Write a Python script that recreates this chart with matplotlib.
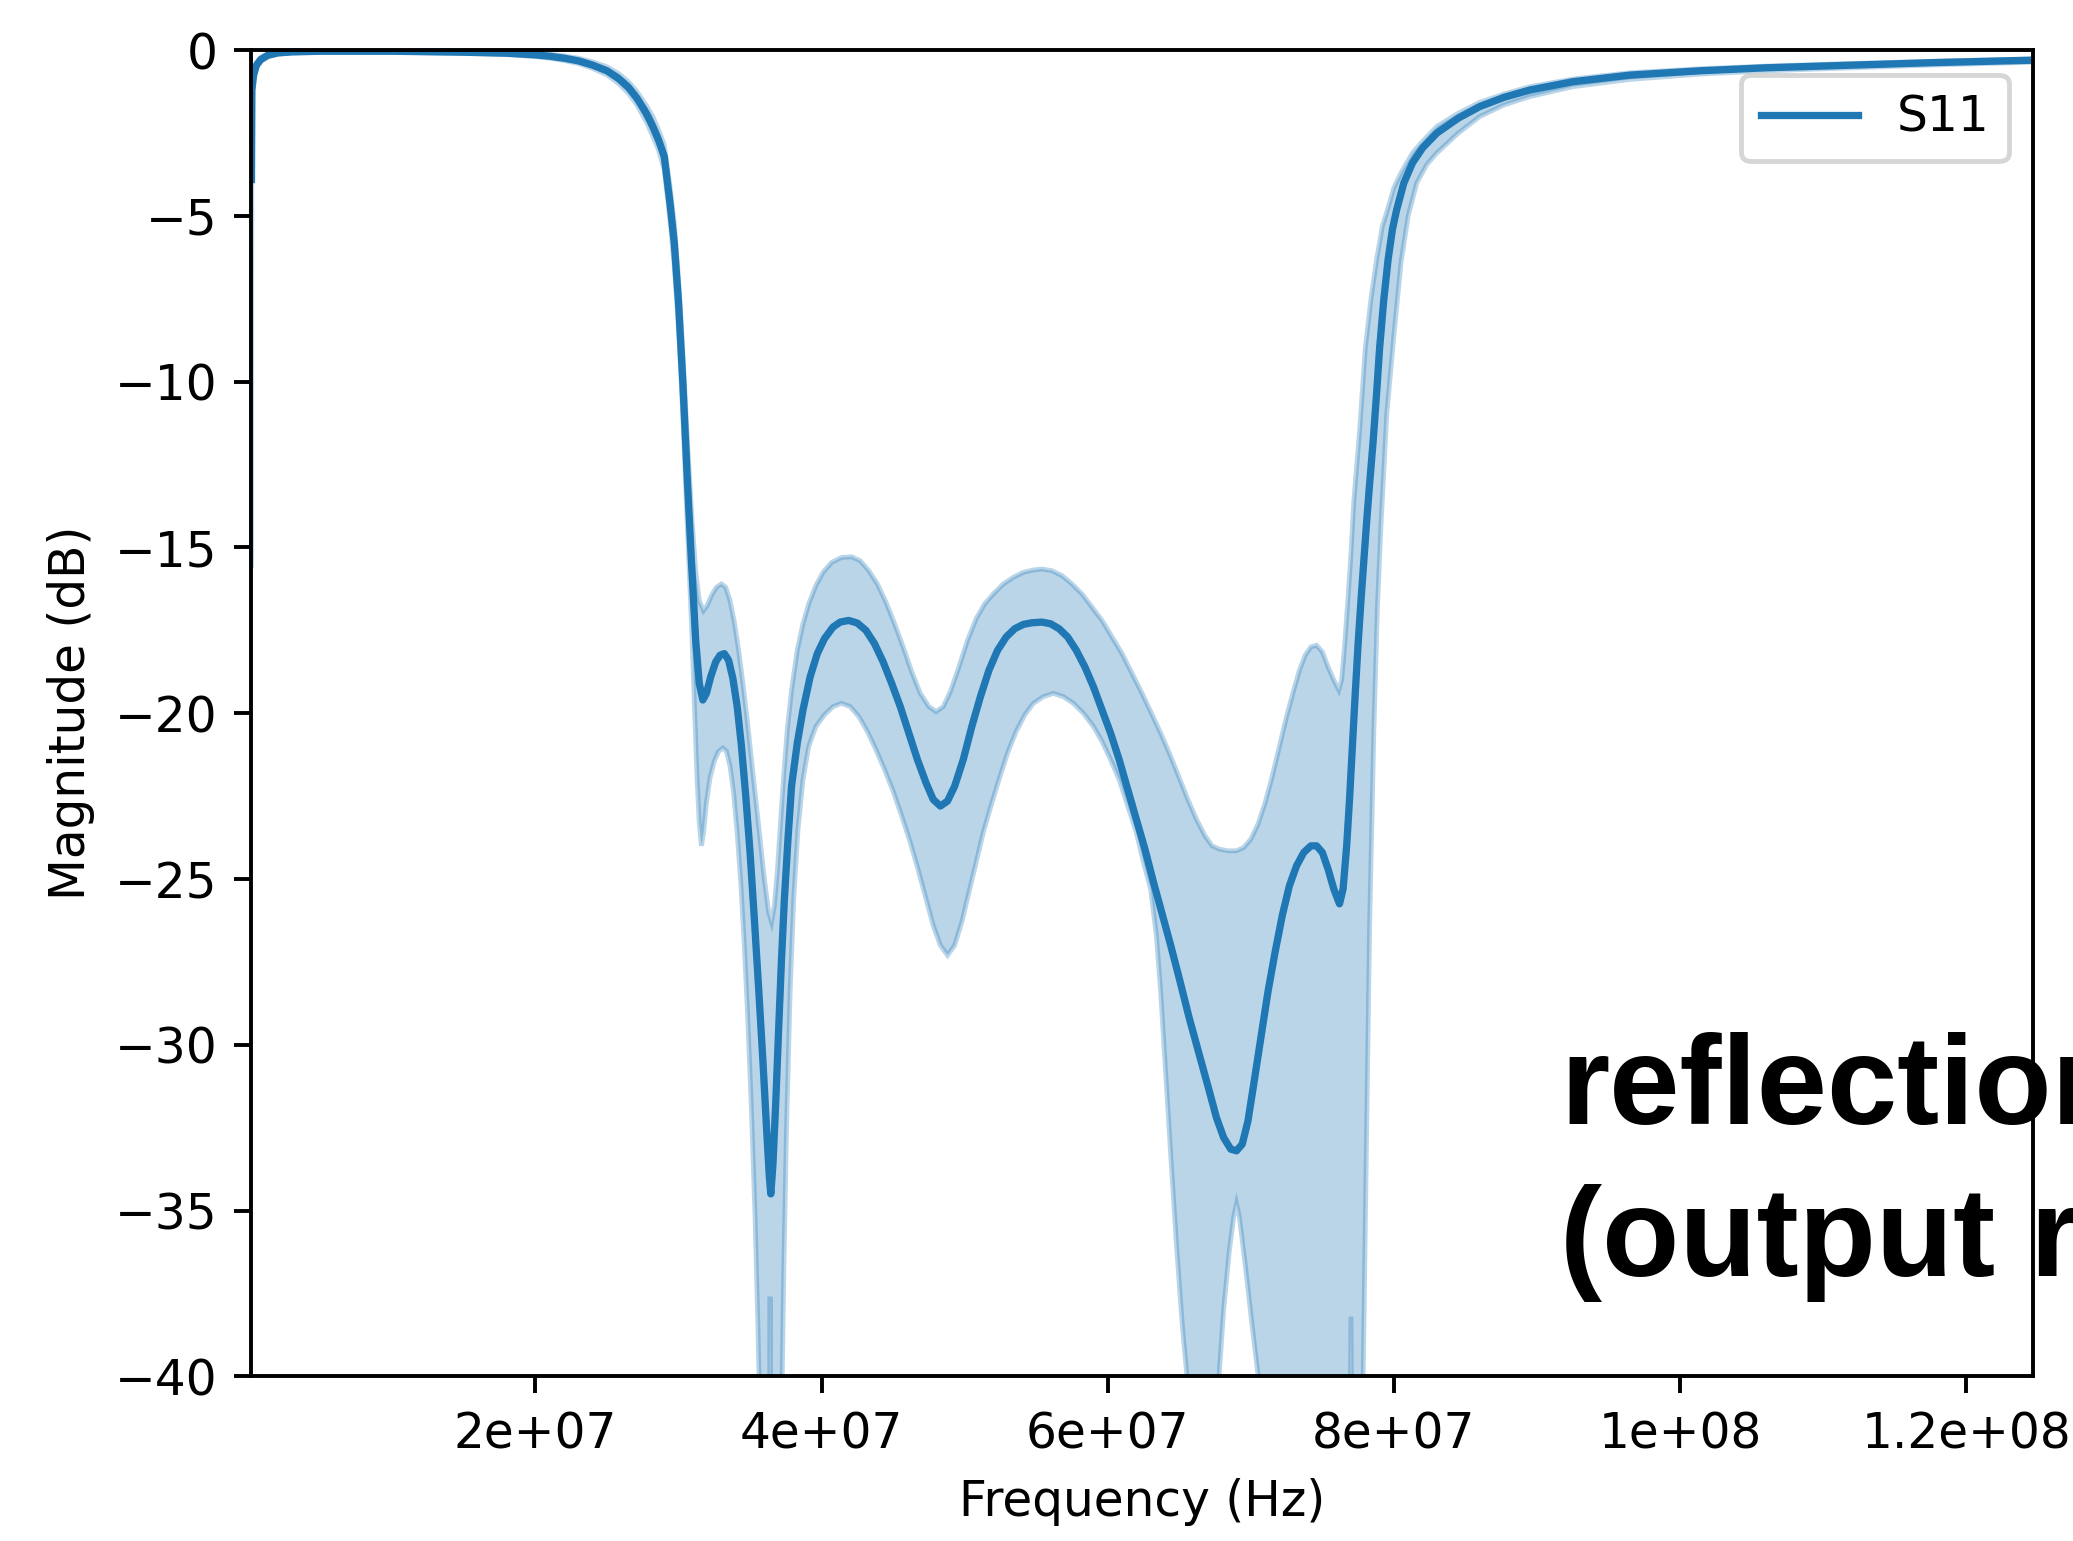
# import necessary libraries
import numpy as np
import matplotlib.pyplot as plt
from matplotlib.ticker import FormatStrFormatter

# mean S11 curve (frequency in MHz, magnitude in dB)
freq_mean = [0.15, 0.18, 0.3, 0.5, 0.8, 1.3, 2.0, 3.0, 5.0, 10, 15, 18, 20, 21, 22, 23,
             24, 25, 25.8, 26.5, 27.1, 27.6, 27.8, 28.2, 28.6, 29.0, 29.4, 29.7, 30.0,
             30.3, 30.6, 30.9, 31.2, 31.45, 31.7, 31.95, 32.25, 32.6, 32.9, 33.2, 33.5,
             33.8, 34.1, 34.4, 34.7, 35.0, 35.3, 35.6, 35.9, 36.15, 36.35, 36.45, 36.6,
             36.8, 37.0, 37.2, 37.4, 37.65, 37.9, 38.3, 38.7, 39.2, 39.7, 40.2, 40.8,
             41.3, 41.9, 42.5, 43.1, 43.7, 44.3, 44.9, 45.5, 46.1, 46.7, 47.3, 47.8,
             48.3, 48.8, 49.3, 49.9, 50.5, 51.1, 51.7, 52.3, 52.9, 53.5, 54.1, 54.7,
             55.4, 56.0, 56.6, 57.2, 57.8, 58.4, 59.0, 59.6, 60.2, 60.8, 61.4, 62.0,
             62.6, 63.2, 63.8, 64.4, 65.0, 65.7, 66.4, 67.1, 67.6, 68.1, 68.6, 69.0,
             69.4, 69.8, 70.2, 70.7, 71.2, 71.7, 72.2, 72.7, 73.2, 73.7, 74.2, 74.6,
             75.0, 75.4, 75.8, 76.2, 76.45, 76.7, 76.9, 77.1, 77.3, 77.5, 77.7, 77.9,
             78.1, 78.3, 78.55, 78.8, 79.0, 79.3, 79.6, 79.9, 80.2, 80.7, 81.3, 82.0,
             83.0, 84.5, 86.0, 87.7, 89.5, 92.5, 96.5, 101.4, 106, 112, 118, 124.7]
s11_mean = [-3.9, -1.2, -0.75, -0.45, -0.28, -0.15, -0.08, -0.05, -0.03, -0.03, -0.06,
            -0.09, -0.14, -0.18, -0.24, -0.32, -0.45, -0.62, -0.85, -1.12, -1.45, -1.8,
            -1.95, -2.3, -2.7, -3.2, -4.6, -5.8, -7.6, -10.0, -12.8, -15.4, -17.8,
            -19.1, -19.6, -19.4, -18.9, -18.45, -18.25, -18.2, -18.4, -18.95, -19.8,
            -21.0, -22.5, -24.2, -26.2, -28.3, -30.5, -32.5, -34.0, -34.5, -33.6,
            -31.7, -29.5, -27.4, -25.6, -23.8, -22.2, -20.9, -19.9, -18.9, -18.2,
            -17.75, -17.4, -17.25, -17.2, -17.28, -17.5, -17.9, -18.45, -19.1, -19.8,
            -20.6, -21.4, -22.1, -22.6, -22.8, -22.65, -22.2, -21.4, -20.4, -19.5,
            -18.7, -18.1, -17.7, -17.45, -17.32, -17.27, -17.25, -17.3, -17.45, -17.7,
            -18.1, -18.6, -19.2, -19.9, -20.6, -21.4, -22.3, -23.2, -24.1, -25.1,
            -26.05, -27.0, -28.0, -29.2, -30.3, -31.4, -32.2, -32.8, -33.15, -33.2,
            -33.0, -32.3, -31.2, -29.8, -28.4, -27.2, -26.1, -25.2, -24.6, -24.2,
            -24.0, -24.0, -24.2, -24.7, -25.3, -25.75, -25.3, -24.0, -22.6, -21.0,
            -19.4, -17.9, -16.6, -15.4, -14.2, -13.1, -11.8, -10.3, -9.0, -7.5, -6.3,
            -5.4, -4.8, -4.0, -3.4, -2.95, -2.5, -2.05, -1.7, -1.42, -1.2, -0.95,
            -0.75, -0.62, -0.53, -0.45, -0.37, -0.3]

# upper edge of the spread band
freq_upper = [0.15, 0.18, 0.3, 0.5, 0.8, 1.3, 2.0, 3.0, 5.0, 10, 15, 18, 20, 21, 22, 23,
              24, 25, 25.8, 26.5, 27.1, 27.6, 27.8, 28.2, 28.6, 29.0, 29.4, 29.7, 30.0,
              30.3, 30.6, 30.9, 31.2, 31.45, 31.75, 32.0, 32.3, 32.65, 33.0, 33.3, 33.6,
              33.9, 34.2, 34.5, 34.8, 35.1, 35.4, 35.7, 36.0, 36.3, 36.5, 36.7, 36.9,
              37.1, 37.35, 37.6, 37.9, 38.3, 38.7, 39.1, 39.6, 40.1, 40.7, 41.4, 42.1,
              42.7, 43.3, 43.9, 44.5, 45.1, 45.7, 46.3, 46.9, 47.5, 48.0, 48.5, 49.0,
              49.6, 50.2, 50.8, 51.4, 52.0, 52.7, 53.4, 54.1, 54.8, 55.4, 56.1, 56.8,
              57.5, 58.2, 58.9, 59.6, 60.3, 61.0, 61.7, 62.4, 63.0, 63.7, 64.4, 65.0,
              65.6, 66.2, 66.8, 67.3, 67.8, 68.4, 69.0, 69.5, 70.0, 70.5, 71.0, 71.5,
              72.0, 72.5, 73.0, 73.4, 73.8, 74.2, 74.6, 75.0, 75.4, 75.8, 76.15, 76.35,
              76.55, 76.8, 77.0, 77.2, 77.6, 78.0, 78.4, 78.8, 79.2, 79.6, 80.0, 80.5,
              81.3, 82.0, 83.0, 84.5, 86.0, 87.7, 89.5, 92.5, 96.5, 101.4, 106, 112,
              118, 124.7]
s11_upper = [-1.5, -1.0, -0.65, -0.38, -0.22, -0.1, -0.04, -0.02, -0.01, -0.01, -0.03,
             -0.05, -0.09, -0.12, -0.17, -0.24, -0.35, -0.5, -0.7, -0.95, -1.25, -1.57,
             -1.7, -2.0, -2.4, -2.85, -4.1, -5.2, -6.9, -9.1, -11.6, -13.9, -15.7,
             -16.6, -16.9, -16.75, -16.45, -16.2, -16.1, -16.2, -16.6, -17.25, -18.1,
             -19.1, -20.2, -21.4, -22.6, -23.8, -25.0, -26.0, -26.3, -25.8, -24.8,
             -23.5, -21.9, -20.5, -19.3, -18.1, -17.3, -16.7, -16.15, -15.75, -15.45,
             -15.3, -15.28, -15.4, -15.7, -16.1, -16.65, -17.3, -18.0, -18.75, -19.4,
             -19.8, -19.95, -19.8, -19.35, -18.6, -17.8, -17.15, -16.7, -16.4, -16.1,
             -15.9, -15.75, -15.68, -15.65, -15.7, -15.85, -16.1, -16.4, -16.8, -17.2,
             -17.7, -18.2, -18.8, -19.4, -19.95, -20.6, -21.3, -21.95, -22.6, -23.2,
             -23.7, -24.0, -24.1, -24.15, -24.15, -24.05, -23.8, -23.35, -22.7, -21.9,
             -21.0, -20.1, -19.3, -18.7, -18.25, -18.0, -17.95, -18.15, -18.6, -19.0,
             -19.3, -19.0, -18.0, -16.5, -15.2, -13.6, -11.5, -9.0, -7.5, -6.3, -5.3,
             -4.75, -4.15, -3.7, -3.1, -2.75, -2.3, -1.9, -1.57, -1.32, -1.1, -0.87,
             -0.68, -0.56, -0.48, -0.4, -0.33, -0.26]

# lower edge of the spread band (goes far below the -40 dB limit in places)
freq_lower = [0.15, 0.18, 0.3, 0.5, 0.8, 1.3, 2.0, 3.0, 5.0, 10, 15, 18, 20, 21, 22, 23,
              24, 25, 25.8, 26.5, 27.1, 27.6, 27.8, 28.2, 28.6, 29.0, 29.4, 29.7, 30.0,
              30.3, 30.6, 30.9, 31.1, 31.3, 31.45, 31.6, 31.75, 31.95, 32.2, 32.5, 32.8,
              33.1, 33.35, 33.6, 33.85, 34.1, 34.35, 34.6, 34.85, 35.1, 35.35, 35.55,
              35.7, 35.9, 36.3, 36.4, 36.5, 37.0, 37.2, 37.35, 37.55, 37.8, 38.05, 38.35,
              38.7, 39.1, 39.6, 40.2, 40.8, 41.4, 42.0, 42.6, 43.2, 43.8, 44.4, 45.0,
              45.6, 46.2, 46.8, 47.3, 47.8, 48.3, 48.8, 49.3, 49.8, 50.3, 50.8, 51.3,
              51.8, 52.4, 53.0, 53.6, 54.2, 54.8, 55.5, 56.2, 56.9, 57.6, 58.3, 59.0,
              59.6, 60.2, 60.8, 61.4, 62.0, 62.5, 63.0, 63.4, 63.7, 64.0, 64.4, 64.8,
              65.2, 65.6, 66.0, 66.7, 67.3, 67.7, 68.1, 68.5, 68.8, 69.0, 69.2, 69.6,
              70.1, 70.6, 71.2, 72.0, 76.8, 77.0, 77.2, 77.6, 77.85, 78.05, 78.3, 78.6,
              78.85, 79.1, 79.5, 79.97, 80.5, 81.0, 81.6, 82.3, 83.0, 84.5, 86.0, 87.7,
              89.5, 92.5, 96.5, 101.4, 106, 112, 118, 124.7]
s11_lower = [-15.6, -1.5, -0.85, -0.52, -0.34, -0.2, -0.12, -0.08, -0.06, -0.06, -0.09,
             -0.13, -0.19, -0.24, -0.31, -0.4, -0.55, -0.74, -1.0, -1.3, -1.65, -2.05,
             -2.2, -2.6, -3.0, -3.6, -5.1, -6.5, -8.4, -11.0, -14.2, -17.2, -19.6,
             -22.0, -23.3, -24.0, -23.6, -22.7, -21.95, -21.45, -21.15, -21.05, -21.15,
             -21.6, -22.4, -23.6, -25.1, -27.0, -29.3, -32.0, -35.2, -38.5, -41.5, -46,
             -50, -37.6, -50, -46, -41.5, -37.0, -32.5, -28.4, -25.6, -23.5, -22.0,
             -21.0, -20.4, -20.05, -19.8, -19.7, -19.8, -20.1, -20.55, -21.1, -21.7,
             -22.35, -23.1, -23.9, -24.8, -25.6, -26.4, -27.0, -27.3, -27.0, -26.3,
             -25.4, -24.5, -23.6, -22.85, -22.0, -21.2, -20.55, -20.05, -19.7, -19.5,
             -19.4, -19.5, -19.7, -20.0, -20.4, -20.85, -21.4, -22.0, -22.8, -23.6,
             -24.5, -25.3, -26.7, -28.4, -30.5, -33.3, -36.0, -38.4, -40.3, -43, -46,
             -43, -40.5, -38.0, -36.2, -35.2, -34.8, -35.2, -36.6, -38.5, -40.3, -44,
             -50, -50, -38.2, -50, -46, -40.2, -34, -26.5, -20.5, -16.8, -14.3, -11.0,
             -8.74, -6.4, -5.0, -4.0, -3.45, -3.1, -2.5, -2.0, -1.65, -1.4, -1.1, -0.88,
             -0.72, -0.62, -0.53, -0.44, -0.36]

# convert MHz to Hz
f_mean = np.array(freq_mean) * 1e6
f_up = np.array(freq_upper) * 1e6
f_lo = np.array(freq_lower) * 1e6

# set for the chart
fig = plt.figure(figsize=(2073 / 350, 1541 / 350), dpi=350)
ax = fig.add_axes([0.1213, 0.1069, 0.8596, 0.8605])

# shaded band between upper and lower edge
band_x = np.concatenate([f_up, f_lo[::-1]])
band_y = np.concatenate([s11_upper, s11_lower[::-1]])
ax.fill(band_x, band_y, facecolor='C0', edgecolor='C0', alpha=0.3, linewidth=1.0)

# mean curve
ax.plot(f_mean, s11_mean, color='C0', label='S11')

ax.set_xlim(f_mean[0], f_mean[-1])
ax.set_ylim(-40, 0)
ax.xaxis.set_major_formatter(FormatStrFormatter('%g'))
ax.set_xlabel('Frequency (Hz)')
ax.set_ylabel('Magnitude (dB)')
ax.legend(loc='upper right')

# note pasted over the lower right corner
fig.text(0.7525, 0.2706, 'reflection', fontsize=26, fontweight='bold',
         family='Liberation Sans', va='baseline', ha='left')
fig.text(0.7525, 0.1720, '(output r', fontsize=26, fontweight='bold',
         family='Liberation Sans', va='baseline', ha='left')

fig.savefig('out.png', dpi=350)
